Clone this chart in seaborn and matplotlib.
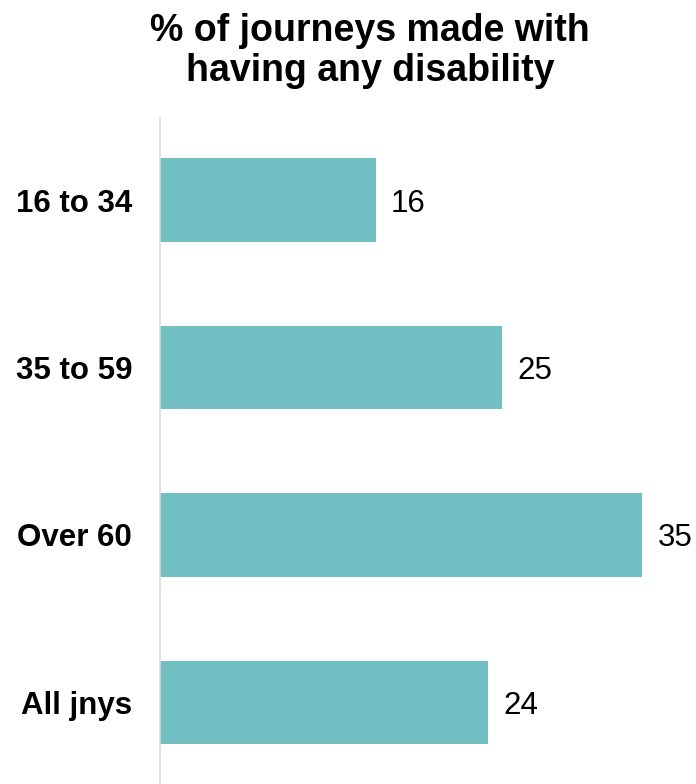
import matplotlib
matplotlib.use("Agg")
import matplotlib.pyplot as plt
import seaborn as sns
import pandas as pd

categories = ["16 to 34", "35 to 59", "Over 60", "All jnys"]
values = [15.7, 24.9, 35.1, 23.9]
title = "% of journeys made with\nhaving any disability"

sns.set_style("white")
plt.rcParams["font.family"] = ["Liberation Sans", "DejaVu Sans"]

df = pd.DataFrame({"group": categories, "pct": values})

fig = plt.figure(figsize=(6.96, 7.84), dpi=100)
ax = fig.add_axes([160 / 696, 0.0, 1 - 160 / 696, 1 - 118 / 784])

sns.barplot(data=df, x="pct", y="group", orient="h", color="#72BFC4",
            width=0.5, saturation=1, linewidth=0, ax=ax)

ax.set_xlim(0, 39)
ax.set_ylim(3.487, -0.49)
ax.set_xlabel("")
ax.set_ylabel("")
ax.set_xticks([])
for s in ["top", "right", "bottom"]:
    ax.spines[s].set_visible(False)
ax.spines["left"].set_color("#D9D9D9")
ax.spines["left"].set_linewidth(1.2)
ax.tick_params(axis="y", length=0, pad=20)
for lab in ax.get_yticklabels():
    lab.set_fontsize(22.5)
    lab.set_fontweight("bold")
    lab.set_color("black")
    lab.set_verticalalignment("center_baseline")

for i, v in enumerate(values):
    ax.annotate(f"{v:.0f}", xy=(v, i), xytext=(11, 0), textcoords="offset points",
                ha="left", va="center_baseline", fontsize=22.5, color="black",
                annotation_clip=False)

fig.text(370 / 696, 1 - 51 / 784, title, ha="center", va="center",
         fontsize=27, fontweight="bold", linespacing=1.12, color="black")

fig.savefig("out.png", dpi=100)
